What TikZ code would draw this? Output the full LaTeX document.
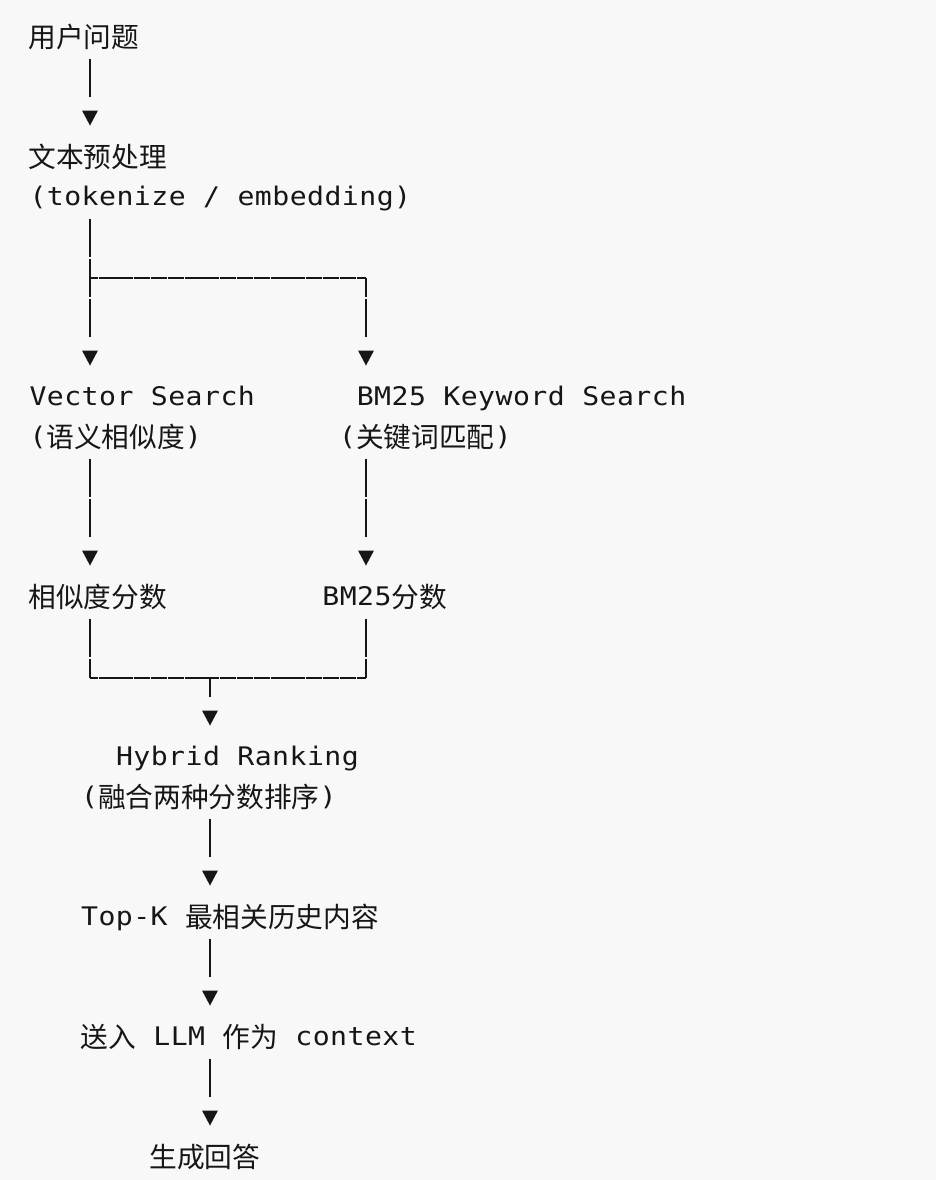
\documentclass[tikz,border=0pt]{standalone}
\usepackage{fontspec}
\newfontfamily\monof[FakeStretch=1.1,LetterSpace=1.8]{DejaVu Sans Mono}
\newfontfamily\cjkf{Noto Sans CJK SC}
\newcommand\txm[1]{{\monof\fontsize{12.8pt}{15pt}\selectfont #1}}
\newcommand\txc[1]{\raisebox{-1pt}{\cjkf\fontsize{13.85pt}{15pt}\selectfont #1}}
\definecolor{bgc}{RGB}{248,248,248}
\definecolor{ink}{RGB}{22,22,22}
\newcommand\tridown[2]{\fill[ink] (#1-8,#2-7.5) -- (#1+8,#2-7.5) -- (#1,#2+7.5) -- cycle;}
\begin{document}
\begin{tikzpicture}[x=0.5pt,y=-0.5pt,
  txt/.style={anchor=base west, inner sep=0pt, outer sep=0pt, text=ink},
  vline/.style={draw=ink, line width=0.85pt, dash pattern=on 19pt off 1pt},
  hline/.style={draw=ink, line width=0.85pt, dash pattern=on 8.25pt off 0.35pt, dash phase=4.05pt}]
\fill[bgc] (0,0) rectangle (936,1180);
\useasboundingbox (0,0) rectangle (936,1180);

% texts
\node[txt] (q)    at (28.5,45)   {\txc{用户问题}};
\node[txt] (pre1) at (28.5,165)  {\txc{文本预处理}};
\node[txt] (pre2) at (29.5,205)  {\txm{(tokenize / embedding)}};
\node[txt] (vs)   at (29.5,405)  {\txm{Vector Search}};
\node[txt] (bm)   at (356.8,405) {\txm{BM25 Keyword Search}};
\node[txt] (vs2)  at (29.5,445)  {\txm{(}\txc{语义相似度}\txm{)}};
\node[txt] (bm2)  at (339.1,445) {\txm{(}\txc{关键词匹配}\txm{)}};
\node[txt] (vsc)  at (28.5,605)  {\txc{相似度分数}};
\node[txt] (bmc)  at (322.4,605) {\txm{BM25}\txc{分数}};
\node[txt] (hr)   at (116,765)   {\txm{Hybrid Ranking}};
\node[txt] (hr2)  at (81.1,805)  {\txm{(}\txc{融合两种分数排序}\txm{)}};
\node[txt] (tk)   at (81.1,925)  {\txm{Top-K }\txc{最相关历史内容}};
\node[txt] (llm)  at (80.6,1045) {\txc{送入}\txm{ LLM }\txc{作为}\txm{ context}};
\node[txt] (ans)  at (149.5,1165){\txc{生成回答}};

% junction coordinates
\coordinate (a1) at (90,59);   \coordinate (a2) at (90,97);
\coordinate (b1) at (90,219);  \coordinate (b2) at (90,337);
\coordinate (bs) at (90,278);  \coordinate (br) at (366,278); \coordinate (br2) at (366,337);
\coordinate (c1) at (90,459);  \coordinate (c2) at (90,537);
\coordinate (d1) at (366,459); \coordinate (d2) at (366,537);
\coordinate (e1) at (90,619);  \coordinate (e2) at (90,678);
\coordinate (f1) at (366,619); \coordinate (f2) at (366,678);
\coordinate (m1) at (210,678); \coordinate (m2) at (210,697);
\coordinate (g1) at (210,819); \coordinate (g2) at (210,857);
\coordinate (h1) at (210,939); \coordinate (h2) at (210,977);
\coordinate (i1) at (210,1059);\coordinate (i2) at (210,1097);

% connectors
\draw[vline] (a1) -- (a2);
\tridown{90}{118}
\draw[vline] (b1) -- (b2);
\draw[hline] (bs) -- (br);
\draw[vline, dash phase=9.5pt] (br) -- (br2);
\tridown{90}{358}
\tridown{366}{358}
\draw[vline] (c1) -- (c2);
\draw[vline] (d1) -- (d2);
\tridown{90}{558}
\tridown{366}{558}
\draw[vline] (e1) -- (e2);
\draw[vline] (f1) -- (f2);
\draw[hline] (e2) -- (f2);
\draw[vline] (m1) -- (m2);
\tridown{210}{718}
\draw[vline] (g1) -- (g2);
\tridown{210}{878}
\draw[vline] (h1) -- (h2);
\tridown{210}{998}
\draw[vline] (i1) -- (i2);
\tridown{210}{1118}
\end{tikzpicture}
\end{document}
